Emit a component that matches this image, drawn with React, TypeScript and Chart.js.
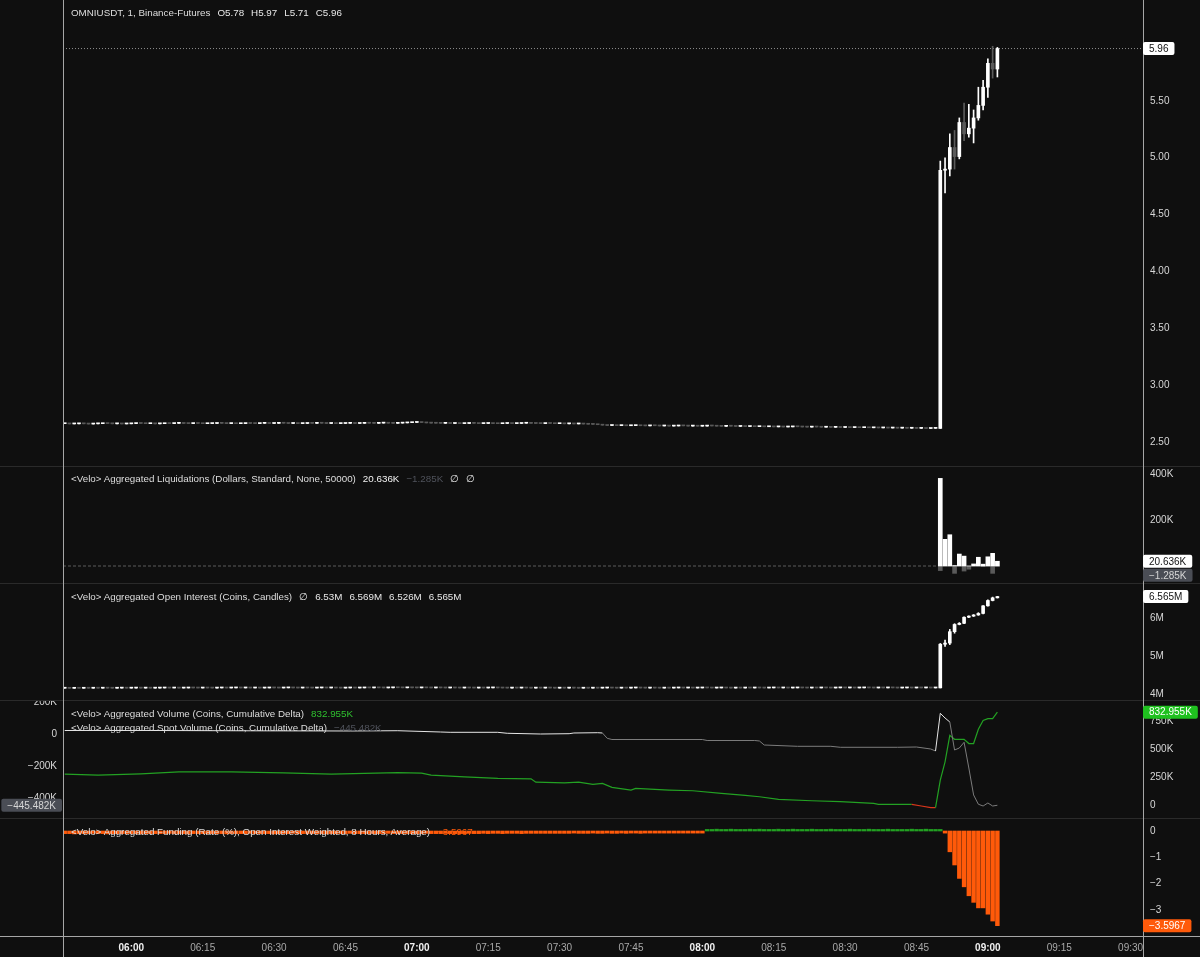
import React, { useEffect, useRef } from 'react';
import { Chart, registerables } from 'chart.js';

Chart.register(...registerables);

// ---------- style ----------
const BG = '#0f0f0f';
const TEXT = '#d6d6d6';
const AXIS_LINE = '#a6a6a6';
const PANE_LINE = '#2a2a2a';
const UP = '#ffffff';
const DOWN = '#5a5a5a';
const GREEN = '#23a123';
const GREEN_BOX = '#1fc11f';
const RED = '#d9361b';
const SPOT_POS = '#e6e6e6';
const SPOT_NEG = '#7c7c7c';
const ORANGE = '#ff5a0a';
const FUND_POS = '#22a022';
const GRAY_BOX = '#4a4d55';
const FONT = '"Liberation Sans", Arial, Helvetica, sans-serif';

// ---------- time axis (minutes after midnight) ----------
const X_MIN = 345.64;
const X_MAX = 572.6;
const xTickLabels = ['06:00', '06:15', '06:30', '06:45', '07:00', '07:15', '07:30', '07:45', '08:00', '08:15', '08:30', '08:45', '09:00', '09:15', '09:30'];
const toMinutes = (s: string) => {
  const [h, m] = s.split(':').map(Number);
  return h * 60 + m;
};

// ---------- price (OMNIUSDT, 1m) ----------
const firstMinute = 346; // 05:46
// closes 05:46 – 08:49 (one per minute)
const priceCloseFlat = [
  2.661, 2.659, 2.660, 2.662, 2.660, 2.658, 2.660, 2.661, 2.663, 2.662, 2.660, 2.661, 2.659, 2.660, 2.662, 2.664, 2.663, 2.661, 2.662, 2.660,
  2.661, 2.663, 2.662, 2.664, 2.665, 2.663, 2.662, 2.664, 2.663, 2.661, 2.662, 2.663, 2.665, 2.664, 2.662, 2.663, 2.661, 2.662, 2.664, 2.663,
  2.662, 2.664, 2.665, 2.663, 2.664, 2.666, 2.665, 2.663, 2.664, 2.662, 2.663, 2.665, 2.664, 2.666, 2.665, 2.663, 2.664, 2.662, 2.663, 2.664,
  2.665, 2.663, 2.664, 2.666, 2.665, 2.664, 2.666, 2.667, 2.665, 2.664, 2.666, 2.668, 2.670, 2.672, 2.675, 2.671, 2.668, 2.666, 2.665, 2.664,
  2.665, 2.663, 2.664, 2.662, 2.663, 2.665, 2.664, 2.662, 2.663, 2.664, 2.662, 2.661, 2.663, 2.664, 2.662, 2.663, 2.665, 2.666, 2.664, 2.663,
  2.662, 2.664, 2.663, 2.661, 2.662, 2.660, 2.661, 2.659, 2.660, 2.658, 2.656, 2.655, 2.652, 2.648, 2.645, 2.646, 2.644, 2.645, 2.643, 2.644,
  2.645, 2.643, 2.642, 2.644, 2.643, 2.641, 2.642, 2.640, 2.641, 2.643, 2.642, 2.640, 2.641, 2.639, 2.640, 2.642, 2.641, 2.639, 2.638, 2.640,
  2.639, 2.637, 2.638, 2.636, 2.637, 2.635, 2.636, 2.634, 2.635, 2.633, 2.634, 2.632, 2.633, 2.635, 2.634, 2.632, 2.631, 2.633, 2.632, 2.630,
  2.631, 2.629, 2.630, 2.628, 2.629, 2.627, 2.628, 2.626, 2.627, 2.625, 2.626, 2.624, 2.625, 2.623, 2.624, 2.622, 2.623, 2.621, 2.622, 2.620,
  2.621, 2.619, 2.620, 2.620,
];
const spikeFirstMinute = 530; // 08:50
const priceSpikeOpen = [2.62, 4.89, 4.90, 5.09, 5.01, 5.31, 5.21, 5.26, 5.35, 5.46, 5.62, 5.83, 5.78];
const priceSpikeHigh = [4.97, 5.00, 5.21, 5.24, 5.35, 5.48, 5.47, 5.42, 5.62, 5.68, 5.87, 5.98, 5.97];
const priceSpikeLow = [2.62, 4.69, 4.84, 4.90, 4.99, 5.15, 5.18, 5.13, 5.33, 5.42, 5.53, 5.70, 5.71];
const priceSpikeClose = [4.89, 4.90, 5.09, 5.01, 5.31, 5.21, 5.26, 5.35, 5.46, 5.62, 5.83, 5.78, 5.96];
const priceTickValues = [2.5, 3, 3.5, 4, 4.5, 5, 5.5];

// ---------- aggregated liquidations (K $) ----------
const liqMinutes = [530, 531, 532, 533, 534, 535, 536, 537, 538, 539, 540, 541, 542];
const liqLongK = [381, 116, 136, 2, 52, 43, 0, 9, 38, 8, 40, 55, 20.636];
const liqShortK = [-20, 0, 0, -32, 0, -22, -14, 0, 0, -3, 0, -32, -1.285];
const liqTickValues = [200, 400];

// ---------- aggregated open interest (M coins) ----------
const oiCloseFlat = [
  4.152, 4.150, 4.153, 4.151, 4.154, 4.152, 4.155, 4.153, 4.156, 4.154, 4.152, 4.155, 4.157, 4.154, 4.156, 4.158, 4.155, 4.157, 4.154, 4.156,
  4.158, 4.160, 4.157, 4.159, 4.156, 4.158, 4.161, 4.159, 4.157, 4.160, 4.158, 4.156, 4.159, 4.161, 4.158, 4.160, 4.162, 4.159, 4.161, 4.158,
  4.160, 4.157, 4.159, 4.162, 4.160, 4.158, 4.161, 4.163, 4.160, 4.158, 4.161, 4.159, 4.157, 4.160, 4.162, 4.159, 4.161, 4.158, 4.156, 4.159,
  4.161, 4.158, 4.160, 4.163, 4.161, 4.164, 4.162, 4.160, 4.163, 4.166, 4.164, 4.162, 4.165, 4.163, 4.161, 4.164, 4.162, 4.160, 4.163, 4.161,
  4.159, 4.162, 4.160, 4.158, 4.161, 4.159, 4.157, 4.160, 4.158, 4.161, 4.163, 4.160, 4.158, 4.156, 4.159, 4.157, 4.160, 4.158, 4.155, 4.158,
  4.156, 4.159, 4.157, 4.154, 4.157, 4.155, 4.158, 4.156, 4.153, 4.156, 4.154, 4.157, 4.155, 4.158, 4.160, 4.157, 4.155, 4.158, 4.156, 4.159,
  4.161, 4.158, 4.156, 4.159, 4.157, 4.155, 4.158, 4.156, 4.159, 4.161, 4.158, 4.160, 4.157, 4.159, 4.162, 4.160, 4.157, 4.159, 4.161, 4.158,
  4.156, 4.159, 4.157, 4.160, 4.158, 4.161, 4.159, 4.157, 4.160, 4.162, 4.159, 4.161, 4.158, 4.160, 4.163, 4.160, 4.158, 4.161, 4.159, 4.162,
  4.160, 4.158, 4.161, 4.163, 4.160, 4.162, 4.159, 4.161, 4.164, 4.161, 4.159, 4.162, 4.160, 4.163, 4.161, 4.158, 4.160, 4.162, 4.159, 4.161,
  4.160, 4.162, 4.159, 4.161,
];
const oiSpikeOpen = [4.16, 5.31, 5.34, 5.64, 5.83, 5.86, 6.02, 6.05, 6.08, 6.12, 6.32, 6.46, 6.53];
const oiSpikeHigh = [5.33, 5.42, 5.70, 5.85, 5.88, 6.03, 6.06, 6.09, 6.14, 6.33, 6.48, 6.55, 6.569];
const oiSpikeLow = [4.16, 5.25, 5.30, 5.60, 5.82, 5.85, 6.01, 6.04, 6.07, 6.11, 6.31, 6.45, 6.526];
const oiSpikeClose = [5.31, 5.34, 5.64, 5.83, 5.86, 6.02, 6.05, 6.08, 6.12, 6.32, 6.46, 6.53, 6.565];
const oiTickValues = [4, 5, 6];

// ---------- aggregated volume, cumulative delta (K coins, right axis) ----------
const aggVolMinutes = [346, 353, 362, 370, 381, 392, 402, 409, 416, 421, 423, 430, 437, 444, 445, 451, 454, 457, 459, 461, 465, 466, 473, 478, 484, 489, 492, 496, 503, 509, 516, 517, 521, 524, 526, 528, 529, 530, 531, 532, 533, 534, 535, 536, 537, 538, 539, 540, 541, 542];
const aggVolK = [277, 268, 280, 297, 297, 288, 277, 283, 290, 286, 268, 253, 238, 235, 205, 199, 205, 185, 194, 158, 134, 149, 134, 128, 105, 87, 74, 51, 38, 30, 15, 6, 5, 6, -9, -24, -24, 223, 387, 625, 589, 589, 589, 551, 551, 679, 759, 774, 774, 832.955];
const aggVolTickValues = [0, 250, 500, 750];

// ---------- aggregated spot volume, cumulative delta (K coins, left axis) ----------
const spotVolMinutes = [346, 364, 385, 406, 416, 425, 427, 437, 439, 446, 452, 453, 458, 459, 460, 461, 480, 481, 491, 492, 493, 500, 507, 509, 521, 525, 528, 529, 530, 531, 532, 533, 534, 535, 536, 537, 538, 539, 540, 541, 542];
const spotVolK = [21.9, 21.9, 20, 18.8, 20.6, 12.5, 10.6, 10.6, 4.4, 0, 1.9, 6.3, 8.1, 6.3, -26.9, -34.4, -34.4, -40.6, -40.6, -43.8, -68.8, -76.9, -76.9, -83.1, -83.1, -81.3, -93.8, -106.3, 129.4, 100, 75, -100, -87.5, -51.9, -212.5, -381, -439, -450, -431, -450, -445.482];
const spotVolTickValues = [200, 0, -200, -400];

// ---------- aggregated funding (%), one bar per minute from 05:46 ----------
const fundingFlat = [
  -0.10, -0.10, -0.11, -0.10, -0.10, -0.10, -0.09, -0.10, -0.10, -0.11, -0.10, -0.10, -0.10, -0.10, -0.10,
  -0.10, -0.11, -0.10, -0.10, -0.10, -0.10, -0.10, -0.09, -0.10, -0.10, -0.10, -0.11, -0.10, -0.10, -0.10,
  -0.10, -0.10, -0.10, -0.10, -0.11, -0.10, -0.10, -0.10, -0.10, -0.09, -0.10, -0.10, -0.10, -0.10, -0.11,
  -0.10, -0.10, -0.10, -0.09, -0.10, -0.10, -0.10, -0.10, -0.10, -0.10, -0.11, -0.10, -0.10, -0.10, -0.10,
  -0.09, -0.10, -0.10, -0.10, -0.10, -0.10, -0.10, -0.10, -0.09, -0.10, -0.10, -0.10, -0.10, -0.10, -0.10,
  -0.10, -0.09, -0.10, -0.10, -0.10, -0.09, -0.10, -0.10, -0.10, -0.10, -0.09, -0.10, -0.10, -0.09, -0.10,
  -0.09, -0.09, -0.10, -0.09, -0.09, -0.09, -0.10, -0.09, -0.09, -0.09, -0.09, -0.09, -0.09, -0.09, -0.09,
  -0.09, -0.09, -0.08, -0.09, -0.09, -0.09, -0.08, -0.09, -0.09, -0.08, -0.09, -0.09, -0.08, -0.09, -0.08,
  -0.08, -0.09, -0.08, -0.08, -0.08, -0.08, -0.08, -0.08, -0.08, -0.08, -0.08, -0.08, -0.08, -0.08, -0.08,
  0.06, 0.06, 0.07, 0.06, 0.06, 0.07, 0.06, 0.06, 0.06, 0.07,
  0.06, 0.07, 0.06, 0.06, 0.06, 0.07, 0.06, 0.06, 0.07, 0.06,
  0.06, 0.06, 0.07, 0.06, 0.06, 0.06, 0.07, 0.06, 0.06, 0.06,
  0.07, 0.06, 0.06, 0.06, 0.07, 0.06, 0.06, 0.06, 0.07, 0.06,
  0.06, 0.06, 0.06, 0.07, 0.06, 0.06, 0.07, 0.06, 0.06, 0.06,
];
const fundingSpike = [-0.08, -0.79, -1.29, -1.80, -2.12, -2.46, -2.71, -2.92, -2.92, -3.16, -3.42, -3.5967];
const fundingTickValues = [0, -1, -2, -3];

// ---------- helpers ----------
const MINUS = '\u2212';
const signed = (v: number, digits?: number) => {
  const a = digits === undefined ? String(Math.abs(v)) : Math.abs(v).toFixed(digits);
  return (v < 0 ? MINUS : '') + a;
};
const last = (a: number[]) => a[a.length - 1];

type Candle = { t: number; o: number; h: number; l: number; c: number };
function buildCandles(flat: number[], so: number[], sh: number[], sl: number[], sc: number[]): Candle[] {
  const out: Candle[] = [];
  flat.forEach((c, i) => {
    const o = i === 0 ? c : flat[i - 1];
    out.push({ t: firstMinute + i, o, h: Math.max(o, c), l: Math.min(o, c), c });
  });
  so.forEach((o, i) => out.push({ t: spikeFirstMinute + i, o, h: sh[i], l: sl[i], c: sc[i] }));
  return out;
}

const candleColor = (ctx: any) => (ctx.raw && ctx.raw.up ? UP : DOWN);

function candleDatasets(candles: Candle[], yAxisID: string) {
  return [
    {
      type: 'bar',
      yAxisID,
      data: candles.map((k) => ({ x: k.t, y: [Math.min(k.o, k.c), Math.max(k.o, k.c)], up: k.c >= k.o })),
      backgroundColor: candleColor,
      barThickness: 3,
      minBarLength: 1,
      grouped: false,
      borderWidth: 0,
    },
    {
      type: 'bar',
      yAxisID,
      data: candles.map((k) => ({ x: k.t, y: [k.l, k.h], up: k.c >= k.o })),
      backgroundColor: candleColor,
      barThickness: 1,
      grouped: false,
      borderWidth: 0,
    },
  ];
}

const hiddenX = { type: 'linear', min: X_MIN, max: X_MAX, display: false, offset: false };

function yAxis(min: number, max: number, ticks: number[], fmt: (v: number) => string, position = 'right') {
  return {
    type: 'linear',
    position,
    min,
    max,
    offset: false,
    grid: { display: false, drawTicks: false },
    border: { display: false },
    afterFit: (s: any) => {
      s.width = position === 'right' ? 57 : 63;
      s.paddingTop = 0;
      s.paddingBottom = 0;
    },
    afterBuildTicks: (s: any) => {
      s.ticks = ticks.map((v) => ({ value: v }));
    },
    ticks: {
      autoSkip: false,
      includeBounds: false,
      padding: position === 'right' ? 7 : 6,
      color: TEXT,
      font: { family: FONT, size: 10 },
      callback: (v: any) => fmt(Number(v)),
    },
  };
}

// frame lines: pane separator, axis verticals, time-axis line
function framePlugin(topLine: boolean, bottomAxis: boolean) {
  return {
    id: 'frame',
    afterDraw(chart: any) {
      const { ctx, chartArea, width, height } = chart;
      ctx.save();
      ctx.lineWidth = 1;
      if (topLine) {
        ctx.strokeStyle = PANE_LINE;
        ctx.beginPath();
        ctx.moveTo(0, 0.5);
        ctx.lineTo(width, 0.5);
        ctx.stroke();
      }
      if (bottomAxis) {
        ctx.strokeStyle = AXIS_LINE;
        const yb = Math.round(chartArea.bottom) + 0.5;
        ctx.beginPath();
        ctx.moveTo(0, yb);
        ctx.lineTo(width, yb);
        ctx.stroke();
      }
      ctx.strokeStyle = AXIS_LINE;
      const xl = Math.round(chartArea.left) + 0.5;
      const xr = Math.round(chartArea.right) + 0.5;
      ctx.beginPath();
      ctx.moveTo(xl, 0);
      ctx.lineTo(xl, height);
      ctx.moveTo(xr, 0);
      ctx.lineTo(xr, height);
      ctx.stroke();
      ctx.restore();
    },
  };
}

type Box = { axis: string; value: number; text: string; bg: string; fg: string; side: 'left' | 'right' };
function boxPlugin(boxes: Box[]) {
  return {
    id: 'boxes',
    afterDraw(chart: any) {
      const { ctx, chartArea } = chart;
      ctx.save();
      ctx.font = `10px ${FONT}`;
      ctx.textBaseline = 'middle';
      const h = 13;
      let prevBottom = -1e9;
      boxes.forEach((b) => {
        const scale = chart.scales[b.axis];
        let top = scale.getPixelForValue(b.value) - h / 2;
        if (b.side === 'right') {
          if (top < prevBottom + 1) top = prevBottom + 1;
          prevBottom = top + h;
        }
        const tw = ctx.measureText(b.text).width;
        const w = tw + 12;
        const x = b.side === 'right' ? chartArea.right : chartArea.left - w - 1;
        ctx.fillStyle = b.bg;
        ctx.beginPath();
        if (ctx.roundRect) ctx.roundRect(x, top, w, h, 2);
        else ctx.rect(x, top, w, h);
        ctx.fill();
        ctx.fillStyle = b.fg;
        ctx.textAlign = 'left';
        ctx.fillText(b.text, x + 6, top + h / 2 + 0.5);
      });
      ctx.restore();
    },
  };
}

const baseOptions = (padLeft: number) => ({
  responsive: false,
  animation: false,
  events: [],
  layout: { padding: { left: padLeft, right: 0, top: 0, bottom: 0 } },
  plugins: { legend: { display: false }, tooltip: { enabled: false } },
});

// ---------- chart configs ----------
function buildPrice() {
  const candles = buildCandles(priceCloseFlat, priceSpikeOpen, priceSpikeHigh, priceSpikeLow, priceSpikeClose);
  const lastClose = last(priceSpikeClose);
  return {
    type: 'bar',
    data: {
      datasets: [
        ...candleDatasets(candles, 'y'),
        {
          type: 'line',
          yAxisID: 'y',
          data: [
            { x: X_MIN, y: lastClose },
            { x: X_MAX, y: lastClose },
          ],
          borderColor: '#8f8f8f',
          borderWidth: 1,
          borderDash: [1, 2],
          pointRadius: 0,
        },
      ],
    },
    options: {
      ...baseOptions(63),
      scales: {
        x: hiddenX,
        y: yAxis(2.289, 6.387, priceTickValues, (v) => v.toFixed(2)),
      },
    },
    plugins: [
      framePlugin(false, false),
      boxPlugin([{ axis: 'y', value: lastClose, text: lastClose.toFixed(2), bg: '#ffffff', fg: '#111111', side: 'right' }]),
    ],
  };
}

function buildLiq() {
  return {
    type: 'bar',
    data: {
      datasets: [
        {
          type: 'bar',
          yAxisID: 'y',
          data: liqMinutes.map((t, i) => ({ x: t, y: liqLongK[i] })),
          backgroundColor: UP,
          barThickness: 4,
          grouped: false,
          borderWidth: 0,
        },
        {
          type: 'bar',
          yAxisID: 'y',
          data: liqMinutes.map((t, i) => ({ x: t, y: liqShortK[i] })),
          backgroundColor: DOWN,
          barThickness: 4,
          grouped: false,
          borderWidth: 0,
        },
        {
          type: 'line',
          yAxisID: 'y',
          data: [
            { x: X_MIN, y: 0 },
            { x: liqMinutes[0] - 0.5, y: 0 },
          ],
          borderColor: '#5c5c5c',
          borderWidth: 1,
          borderDash: [3, 2],
          pointRadius: 0,
        },
      ],
    },
    options: {
      ...baseOptions(63),
      scales: {
        x: hiddenX,
        y: yAxis(-73.9, 434.8, liqTickValues, (v) => signed(v) + 'K'),
      },
    },
    plugins: [
      framePlugin(true, false),
      boxPlugin([
        { axis: 'y', value: last(liqLongK), text: last(liqLongK).toFixed(3) + 'K', bg: '#ffffff', fg: '#111111', side: 'right' },
        { axis: 'y', value: last(liqShortK), text: signed(last(liqShortK), 3) + 'K', bg: GRAY_BOX, fg: TEXT, side: 'right' },
      ]),
    ],
  };
}

function buildOI() {
  const candles = buildCandles(oiCloseFlat, oiSpikeOpen, oiSpikeHigh, oiSpikeLow, oiSpikeClose);
  const lastOI = last(oiSpikeClose);
  return {
    type: 'bar',
    data: { datasets: candleDatasets(candles, 'y') },
    options: {
      ...baseOptions(63),
      scales: {
        x: hiddenX,
        y: yAxis(3.842, 6.921, oiTickValues, (v) => v + 'M'),
      },
    },
    plugins: [
      framePlugin(true, false),
      boxPlugin([{ axis: 'y', value: lastOI, text: lastOI.toFixed(3) + 'M', bg: '#ffffff', fg: '#111111', side: 'right' }]),
    ],
  };
}

function buildVolume() {
  return {
    type: 'line',
    data: {
      datasets: [
        {
          type: 'line',
          yAxisID: 'yl',
          data: spotVolMinutes.map((t, i) => ({ x: t, y: spotVolK[i] })),
          borderColor: SPOT_POS,
          borderWidth: 1,
          pointRadius: 0,
          segment: { borderColor: (c: any) => (c.p1.parsed.y >= 0 ? SPOT_POS : SPOT_NEG) },
        },
        {
          type: 'line',
          yAxisID: 'yr',
          data: aggVolMinutes.map((t, i) => ({ x: t, y: aggVolK[i] })),
          borderColor: GREEN,
          borderWidth: 1.2,
          pointRadius: 0,
          segment: { borderColor: (c: any) => (c.p1.parsed.y >= 0 ? GREEN : RED) },
        },
      ],
    },
    options: {
      ...baseOptions(0),
      scales: {
        x: hiddenX,
        yl: yAxis(-525, 212.5, spotVolTickValues, (v) => (v === 0 ? '0' : signed(v) + 'K'), 'left'),
        yr: yAxis(-116.6, 941.7, aggVolTickValues, (v) => (v === 0 ? '0' : signed(v) + 'K')),
      },
    },
    plugins: [
      framePlugin(true, false),
      boxPlugin([
        { axis: 'yr', value: last(aggVolK), text: last(aggVolK).toFixed(3) + 'K', bg: GREEN_BOX, fg: '#ffffff', side: 'right' },
        { axis: 'yl', value: last(spotVolK), text: signed(last(spotVolK), 3) + 'K', bg: GRAY_BOX, fg: TEXT, side: 'left' },
      ]),
    ],
  };
}

function buildFunding() {
  const values = [...fundingFlat, ...fundingSpike];
  const xTickValues = xTickLabels.map(toMinutes);
  const lastF = last(fundingSpike);
  return {
    type: 'bar',
    data: {
      datasets: [
        {
          type: 'bar',
          yAxisID: 'y',
          data: values.map((v, i) => ({ x: firstMinute + i, y: v })),
          backgroundColor: (c: any) => (c.raw && c.raw.y < 0 ? ORANGE : FUND_POS),
          barThickness: 3.8,
          grouped: false,
          borderWidth: 0,
        },
      ],
    },
    options: {
      ...baseOptions(63),
      scales: {
        x: {
          type: 'linear',
          min: X_MIN,
          max: X_MAX,
          offset: false,
          position: 'bottom',
          grid: { display: false, drawTicks: false },
          border: { display: false },
          afterFit: (s: any) => {
            s.height = 21;
            s.paddingLeft = 0;
            s.paddingRight = 0;
          },
          afterBuildTicks: (s: any) => {
            s.ticks = xTickValues.map((v) => ({ value: v }));
          },
          ticks: {
            autoSkip: false,
            maxRotation: 0,
            includeBounds: false,
            padding: 6,
            color: (c: any) => (c.tick && c.tick.value % 60 === 0 ? '#f0f0f0' : '#a9a9a9'),
            font: (c: any) => ({ family: FONT, size: 10, weight: c.tick && c.tick.value % 60 === 0 ? 'bold' : 'normal' }),
            callback: (_v: any, i: number) => xTickLabels[i],
          },
        },
        y: yAxis(-3.988, 0.494, fundingTickValues, (v) => signed(v)),
      },
    },
    plugins: [
      framePlugin(true, true),
      boxPlugin([{ axis: 'y', value: lastF, text: signed(lastF, 4), bg: ORANGE, fg: '#ffffff', side: 'right' }]),
    ],
  };
}

// ---------- components ----------
function Panel({ top, height, build, children }: { top: number; height: number; build: () => any; children?: React.ReactNode }) {
  const ref = useRef<HTMLCanvasElement>(null);
  useEffect(() => {
    const chart = new Chart(ref.current as HTMLCanvasElement, build());
    return () => chart.destroy();
  }, []);
  return (
    <div style={{ position: 'absolute', left: 0, top, width: 1200, height }}>
      <canvas ref={ref} width={1200} height={height} style={{ display: 'block', width: 1200, height }} />
      {children}
    </div>
  );
}

const headerStyle = (top: number): React.CSSProperties => ({
  position: 'absolute',
  left: 71,
  top,
  height: 14,
  lineHeight: '14px',
  fontFamily: FONT,
  fontSize: 9.8,
  color: '#dedede',
  whiteSpace: 'nowrap',
  pointerEvents: 'none',
});

const V = ({ c, children }: { c?: string; children: React.ReactNode }) => (
  <span style={{ marginLeft: 7, color: c || '#e8e8e8' }}>{children}</span>
);

export default function App() {
  useEffect(() => {
    document.body.style.margin = '0';
    document.body.style.background = BG;
  }, []);
  const lo = last(priceSpikeOpen);
  const lh = last(priceSpikeHigh);
  const ll = last(priceSpikeLow);
  const lc = last(priceSpikeClose);
  const lf = last(fundingSpike);
  return (
    <div style={{ position: 'relative', width: 1200, height: 957, background: BG, overflow: 'hidden' }}>
      <Panel top={0} height={466} build={buildPrice}>
        <div style={headerStyle(6)}>
          OMNIUSDT, 1, Binance-Futures
          <V>O{lo.toFixed(2)}</V>
          <V>H{lh.toFixed(2)}</V>
          <V>L{ll.toFixed(2)}</V>
          <V>C{lc.toFixed(2)}</V>
        </div>
      </Panel>
      <Panel top={466} height={117} build={buildLiq}>
        <div style={headerStyle(6)}>
          {'<Velo> Aggregated Liquidations (Dollars, Standard, None, 50000)'}
          <V c="#f2f2f2">{last(liqLongK).toFixed(3)}K</V>
          <V c="#50535c">{signed(last(liqShortK), 3)}K</V>
          <V>∅</V>
          <V>∅</V>
        </div>
      </Panel>
      <Panel top={583} height={117} build={buildOI}>
        <div style={headerStyle(7)}>
          {'<Velo> Aggregated Open Interest (Coins, Candles)'}
          <V>∅</V>
          <V>{last(oiSpikeOpen)}M</V>
          <V>{last(oiSpikeHigh)}M</V>
          <V>{last(oiSpikeLow)}M</V>
          <V>{last(oiSpikeClose)}M</V>
        </div>
      </Panel>
      <Panel top={700} height={118} build={buildVolume}>
        <div style={headerStyle(7)}>
          {'<Velo> Aggregated Volume (Coins, Cumulative Delta)'}
          <V c="#2fc12f">{last(aggVolK).toFixed(3)}K</V>
        </div>
        <div style={headerStyle(21)}>
          {'<Velo> Aggregated Spot Volume (Coins, Cumulative Delta)'}
          <V c="#50535c">{signed(last(spotVolK), 3)}K</V>
        </div>
      </Panel>
      <Panel top={818} height={139} build={buildFunding}>
        <div style={headerStyle(7)}>
          {'<Velo> Aggregated Funding (Rate (%), Open Interest Weighted, 8 Hours, Average)'}
          <V c={ORANGE}>{signed(lf, 4)}</V>
        </div>
      </Panel>
    </div>
  );
}
